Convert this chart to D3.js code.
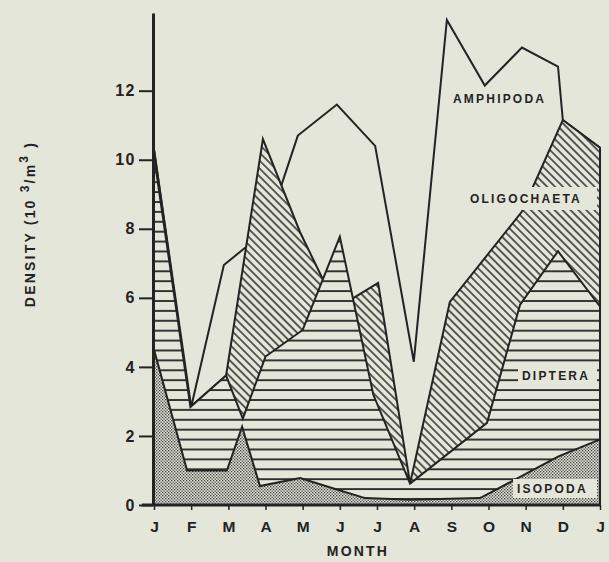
<!DOCTYPE html>
<html>
  <head>
    <meta charset="utf-8">
    <title>Monthly density by taxon</title>
    <script src="https://cdn.jsdelivr.net/npm/d3@7"></script>
    <style>
      body { margin: 0; background: #e3e6d9; }
      #chart { display: block; }
      text { font-family: "Liberation Sans", Arial, sans-serif; font-weight: bold; fill: #232323; }
      .axis line, .axis path { stroke: #232323; }
      .layer { stroke: #232323; stroke-width: 2; stroke-linejoin: miter; }
      .label { font-size: 12px; letter-spacing: 2.2px; }
    </style>
  </head>

  <body>
    <svg id="chart" width="609" height="562">
      <defs>
        <pattern id="stipple" patternUnits="userSpaceOnUse" width="3" height="3">
          <rect width="3" height="3" fill="#e3e6d9"></rect>
          <rect width="1.3" height="1.3" fill="#3a3a3a"></rect>
          <rect x="1.5" y="1.5" width="1.3" height="1.3" fill="#3a3a3a"></rect>
        </pattern>
        <pattern id="horiz" patternUnits="userSpaceOnUse" width="10" height="9.9">
          <rect width="10" height="9.9" fill="#e3e6d9"></rect>
          <line x1="0" x2="10" y1="4" y2="4" stroke="#232323" stroke-width="1.8"></line>
        </pattern>
        <pattern id="diag" patternUnits="userSpaceOnUse" width="5.6" height="10" patternTransform="rotate(-45)">
          <rect width="5.6" height="10" fill="#e3e6d9"></rect>
          <line x1="2.8" x2="2.8" y1="0" y2="10" stroke="#232323" stroke-width="1.4"></line>
        </pattern>
      </defs>
      <g id="layerGroup"></g>
      <g id="labelGroup"></g>
      <g id="yAxisGroup" class="axis"></g>
      <g id="xAxisGroup" class="axis"></g>
      <g id="titleGroup"></g>
    </svg>

    <script>
      // month position (0 = Jan, 12 = next Jan) and the top of each band
      // (cumulative density, 10^3/m^3)
      const months = ["J", "F", "M", "A", "M", "J", "J", "A", "S", "O", "N", "D", "J"];
      const yTicks = [0, 2, 4, 6, 8, 10, 12];

      const amphipoda = [
        [0, 10.3], [1.0, 2.84], [1.88, 6.95], [2.45, 7.45], [2.93, 7.65], [3.87, 10.7],
        [4.92, 11.6], [5.95, 10.4], [6.99, 4.15], [7.88, 14.05], [8.9, 12.15],
        [9.9, 13.25], [10.87, 12.7], [11.0, 11.15], [12, 10.35]
      ];
      const oligochaeta = [
        [0, 10.3], [0.98, 2.84], [1.94, 3.75], [2.93, 10.6], [3.93, 7.9], [4.92, 5.7],
        [6.03, 6.43], [6.89, 0.62], [7.96, 5.88], [9.9, 8.5], [11.0, 11.15], [12, 10.35]
      ];
      const diptera = [
        [0, 10.1], [0.98, 2.84], [1.94, 3.75], [2.39, 2.5], [3.0, 4.3], [4.0, 5.07],
        [5.0, 7.77], [5.9, 3.2], [6.89, 0.62], [8.96, 2.38], [9.85, 5.8],
        [10.87, 7.35], [12, 5.75]
      ];
      const isopoda = [
        [0, 4.5], [0.89, 1.0], [1.96, 1.0], [2.37, 2.27], [2.85, 0.55], [3.93, 0.78],
        [4.92, 0.45], [5.68, 0.2], [6.89, 0.15], [8.77, 0.2], [9.04, 0.35],
        [10.87, 1.4], [12, 1.9]
      ];

      // elements
      chart = d3.select("#chart");
      layerGroup = d3.select("#layerGroup");
      labelGroup = d3.select("#labelGroup");
      yAxisGroup = d3.select("#yAxisGroup");
      xAxisGroup = d3.select("#xAxisGroup");
      titleGroup = d3.select("#titleGroup");

      x = d3.scaleLinear().domain([0, 12]).range([154, 600]);
      y = d3.scaleLinear().domain([0, 14.25]).range([505, 13]);

      area = d3.area()
        .x(d => x(d[0]))
        .y0(y(0))
        .y1(d => y(d[1]));

      // back to front, each band drawn from zero up to its own line
      layers = [
        { data: amphipoda, fill: "#e3e6d9" },
        { data: oligochaeta, fill: "url(#diag)" },
        { data: diptera, fill: "url(#horiz)" },
        { data: isopoda, fill: "url(#stipple)" }
      ];
      layerGroup.selectAll("path")
        .data(layers)
        .join("path")
        .attr("class", "layer")
        .attr("fill", d => d.fill)
        .attr("d", d => area(d.data));

      // labels, boxed where they sit on a pattern
      labels = [
        { text: "AMPHIPODA", x: 453, y: 103, box: false },
        { text: "OLIGOCHAETA", x: 470, y: 203, box: [466, 187, 131, 23] },
        { text: "DIPTERA", x: 522, y: 380, box: [518, 366, 79, 19] },
        { text: "ISOPODA", x: 517, y: 493, box: [513, 479, 84, 19] }
      ];
      labels.filter(d => d.box).forEach(d => {
        labelGroup.append("rect")
          .attr("x", d.box[0]).attr("y", d.box[1])
          .attr("width", d.box[2]).attr("height", d.box[3])
          .attr("fill", "#e3e6d9");
      });
      labelGroup.selectAll("text")
        .data(labels)
        .join("text")
        .attr("class", "label")
        .attr("x", d => d.x)
        .attr("y", d => d.y)
        .text(d => d.text);

      // axes
      yAxis = d3.axisLeft(y)
        .tickValues(yTicks)
        .tickSize(14)
        .tickSizeOuter(0)
        .tickPadding(3);
      yAxisGroup.attr("transform", "translate(153, 0)")
        .call(yAxis);
      yAxisGroup.select(".domain").attr("stroke-width", 3);
      yAxisGroup.selectAll(".tick line").attr("stroke-width", 2);
      yAxisGroup.selectAll(".tick text")
        .style("font-size", "16px")
        .style("letter-spacing", "1.5px");

      xAxis = d3.axisBottom(x)
        .tickValues(d3.range(13))
        .tickFormat(i => months[i])
        .tickSize(5)
        .tickPadding(11);
      xAxisGroup.attr("transform", "translate(0, 505)")
        .call(xAxis);
      xAxisGroup.select(".domain").remove();
      xAxisGroup.append("line")
        .attr("x1", 142).attr("x2", 601)
        .attr("stroke-width", 3);
      xAxisGroup.selectAll(".tick line").attr("stroke-width", 1.5);
      xAxisGroup.selectAll(".tick text").style("font-size", "15.5px");

      // axis titles
      titleGroup.append("text")
        .attr("x", 358)
        .attr("y", 556)
        .attr("text-anchor", "middle")
        .style("font-size", "14px")
        .style("letter-spacing", "2.2px")
        .text("MONTH");

      density = titleGroup.append("text")
        .attr("transform", "translate(35, 224) rotate(-90)")
        .attr("text-anchor", "middle")
        .style("font-size", "14px")
        .style("letter-spacing", "2.2px");
      density.append("tspan").text("DENSITY (10 ");
      density.append("tspan").attr("dy", -6).style("font-size", "12px").text("3");
      density.append("tspan").attr("dy", 6).text("/m");
      density.append("tspan").attr("dy", -7).style("font-size", "12px").text("3");
      density.append("tspan").attr("dy", 7).text(" )");
    </script>
  </body>
</html>
